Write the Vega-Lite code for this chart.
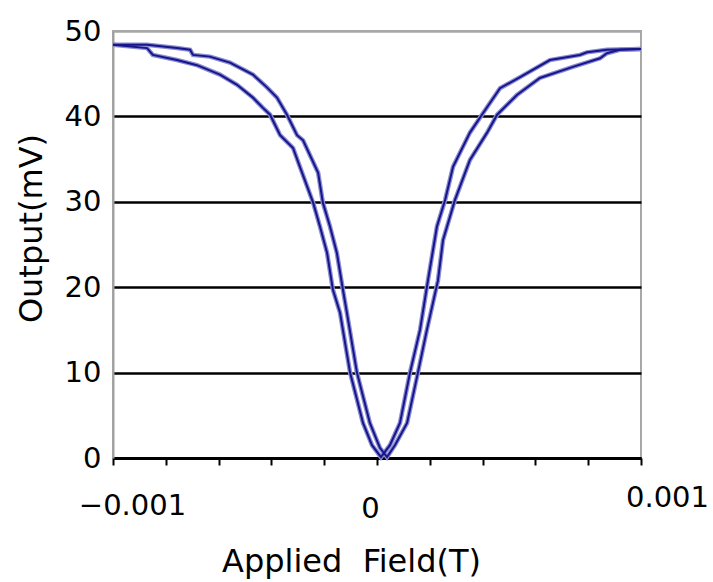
{
  "$schema": "https://vega.github.io/schema/vega-lite/v6.json",
  "autosize": "none",
  "width": 528,
  "height": 427,
  "padding": {"left": 113, "top": 31, "right": 72, "bottom": 124},
  "background": "white",
  "config": {
    "view": {"stroke": "#a8a8a8", "strokeWidth": 2},
    "font": "DejaVu Sans"
  },
  "data": {
    "values": [
      {"curve": "A", "x": -0.001, "y": 48.4},
      {"curve": "A", "x": -0.000871, "y": 48.0},
      {"curve": "A", "x": -0.000849, "y": 47.2},
      {"curve": "A", "x": -0.000758, "y": 46.6},
      {"curve": "A", "x": -0.000682, "y": 46.0},
      {"curve": "A", "x": -0.000595, "y": 44.9},
      {"curve": "A", "x": -0.00053, "y": 43.7},
      {"curve": "A", "x": -0.00047, "y": 42.2},
      {"curve": "A", "x": -0.000432, "y": 41.0},
      {"curve": "A", "x": -0.000405, "y": 40.2},
      {"curve": "A", "x": -0.000367, "y": 37.8},
      {"curve": "A", "x": -0.000318, "y": 36.3},
      {"curve": "A", "x": -0.000292, "y": 34.1},
      {"curve": "A", "x": -0.000242, "y": 29.9},
      {"curve": "A", "x": -0.000216, "y": 27.1},
      {"curve": "A", "x": -0.000189, "y": 24.0},
      {"curve": "A", "x": -0.000167, "y": 19.7},
      {"curve": "A", "x": -0.00014, "y": 17.0},
      {"curve": "A", "x": -0.000102, "y": 10.0},
      {"curve": "A", "x": -0.000053, "y": 4.1},
      {"curve": "A", "x": -0.000019, "y": 1.5},
      {"curve": "A", "x": 0.000015, "y": 0.1},
      {"curve": "A", "x": 0.000049, "y": 1.5},
      {"curve": "A", "x": 0.000087, "y": 4.1},
      {"curve": "A", "x": 0.000125, "y": 10.0},
      {"curve": "A", "x": 0.000163, "y": 15.0},
      {"curve": "A", "x": 0.000193, "y": 20.8},
      {"curve": "A", "x": 0.000227, "y": 27.1},
      {"curve": "A", "x": 0.000258, "y": 30.2},
      {"curve": "A", "x": 0.000288, "y": 34.1},
      {"curve": "A", "x": 0.000352, "y": 38.1},
      {"curve": "A", "x": 0.000402, "y": 40.4},
      {"curve": "A", "x": 0.000466, "y": 43.3},
      {"curve": "A", "x": 0.000542, "y": 44.6},
      {"curve": "A", "x": 0.000655, "y": 46.6},
      {"curve": "A", "x": 0.000769, "y": 47.2},
      {"curve": "A", "x": 0.000795, "y": 47.5},
      {"curve": "A", "x": 0.000871, "y": 47.8},
      {"curve": "A", "x": 0.001, "y": 47.9},
      {"curve": "B", "x": -0.001, "y": 48.4},
      {"curve": "B", "x": -0.000871, "y": 48.4},
      {"curve": "B", "x": -0.000758, "y": 48.0},
      {"curve": "B", "x": -0.000708, "y": 47.8},
      {"curve": "B", "x": -0.000697, "y": 47.2},
      {"curve": "B", "x": -0.000633, "y": 47.0},
      {"curve": "B", "x": -0.000557, "y": 46.3},
      {"curve": "B", "x": -0.00047, "y": 44.9},
      {"curve": "B", "x": -0.000417, "y": 43.4},
      {"curve": "B", "x": -0.000379, "y": 42.2},
      {"curve": "B", "x": -0.000341, "y": 40.2},
      {"curve": "B", "x": -0.000303, "y": 37.8},
      {"curve": "B", "x": -0.00028, "y": 37.2},
      {"curve": "B", "x": -0.000223, "y": 33.4},
      {"curve": "B", "x": -0.000205, "y": 29.9},
      {"curve": "B", "x": -0.000178, "y": 27.1},
      {"curve": "B", "x": -0.000152, "y": 24.0},
      {"curve": "B", "x": -0.000129, "y": 19.7},
      {"curve": "B", "x": -0.000114, "y": 17.0},
      {"curve": "B", "x": -0.000076, "y": 10.0},
      {"curve": "B", "x": -0.000027, "y": 4.1},
      {"curve": "B", "x": 0.000011, "y": 1.2},
      {"curve": "B", "x": 0.000038, "y": 0.1},
      {"curve": "B", "x": 0.000068, "y": 1.5},
      {"curve": "B", "x": 0.000114, "y": 4.1},
      {"curve": "B", "x": 0.000155, "y": 10.0},
      {"curve": "B", "x": 0.000189, "y": 15.0},
      {"curve": "B", "x": 0.000231, "y": 20.8},
      {"curve": "B", "x": 0.00025, "y": 25.5},
      {"curve": "B", "x": 0.000295, "y": 30.2},
      {"curve": "B", "x": 0.000352, "y": 34.9},
      {"curve": "B", "x": 0.000417, "y": 38.1},
      {"curve": "B", "x": 0.000455, "y": 40.2},
      {"curve": "B", "x": 0.00053, "y": 42.5},
      {"curve": "B", "x": 0.000617, "y": 44.5},
      {"curve": "B", "x": 0.000742, "y": 45.8},
      {"curve": "B", "x": 0.000845, "y": 46.8},
      {"curve": "B", "x": 0.000871, "y": 47.4},
      {"curve": "B", "x": 0.00092, "y": 47.8},
      {"curve": "B", "x": 0.001, "y": 47.9}
    ]
  },
  "encoding": {
    "x": {
      "field": "x",
      "type": "quantitative",
      "scale": {"domain": [-0.001, 0.001], "nice": false, "zero": false},
      "axis": {
        "title": "Applied\u00a0 Field(T)",
        "titleFont": "DejaVu Sans",
        "titleFontSize": 32,
        "titleFontWeight": "normal",
        "titleColor": "black",
        "titlePadding": 23,
        "titleX": 238,
        "values": [-0.001, -0.0008, -0.0006, -0.0004, -0.0002, 0, 0.0002, 0.0004, 0.0006, 0.0008, 0.001],
        "labelExpr": "datum.value < -0.0009 ? '−0.001' : (abs(datum.value) < 0.00001 ? '0' : (datum.value > 0.0009 ? '0.001' : ''))",
        "labelFont": "DejaVu Sans",
        "labelFontSize": 29,
        "labelColor": "black",
        "labelPadding": {"condition": [{"test": "datum.value < -0.0009", "value": 26}, {"test": "datum.value > 0.0009", "value": 18}], "value": 29},
        "labelOffset": {"condition": [{"test": "datum.value < -0.0009", "value": 19}, {"test": "datum.value > 0.0009", "value": 26}], "value": -7},
        "labelFlush": false,
        "labelOverlap": false,
        "grid": false,
        "domainColor": "black",
        "domainWidth": 3,
        "tickColor": "black",
        "tickWidth": 2,
        "tickSize": 7
      }
    },
    "y": {
      "field": "y",
      "type": "quantitative",
      "scale": {"domain": [0, 50], "nice": false},
      "axis": {
        "title": "Output(mV)",
        "titleFont": "DejaVu Sans",
        "titleFontSize": 32,
        "titleFontWeight": "normal",
        "titleColor": "black",
        "titlePadding": 16,
        "titleY": 197,
        "values": [0, 10, 20, 30, 40, 50],
        "labelFont": "DejaVu Sans",
        "labelFontSize": 29,
        "labelColor": "black",
        "labelPadding": 12,
        "labelFlush": false,
        "ticks": false,
        "domainColor": "#a0a0a0",
        "domainWidth": 2,
        "grid": true,
        "gridColor": {"condition": {"test": "datum.value >= 50", "value": "#a8a8a8"}, "value": "black"},
        "gridWidth": 2.5,
        "gridOpacity": 1
      }
    },
    "detail": {"field": "curve"}
  },
  "layer": [
    {"mark": {"type": "line", "color": "#8c8cd0", "strokeWidth": 4.5, "interpolate": "linear"}},
    {"mark": {"type": "line", "color": "#15158c", "strokeWidth": 2, "interpolate": "linear"}}
  ]
}
